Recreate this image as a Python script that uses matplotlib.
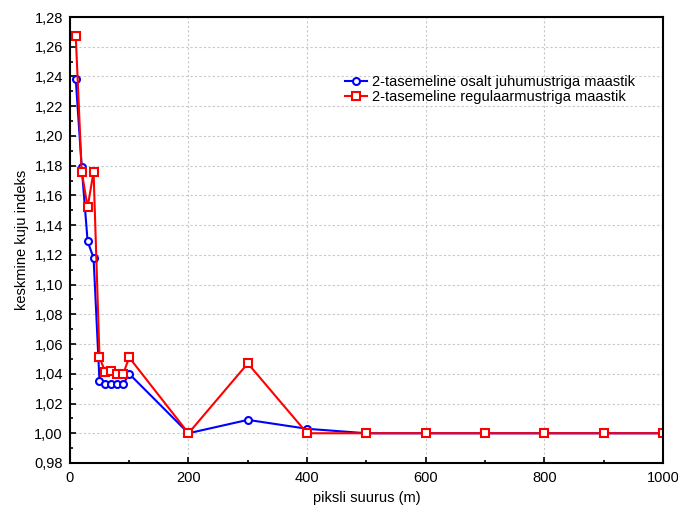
import matplotlib.pyplot as plt
from matplotlib.ticker import MultipleLocator, FuncFormatter

plt.rcParams['font.family'] = ['Liberation Sans', 'DejaVu Sans']

# piksli suurused (m)
piksel = [10, 20, 30, 40, 50, 60, 70, 80, 90, 100, 200, 300, 400, 500, 600, 700, 800, 900, 1000]
juhu = [1.238, 1.179, 1.129, 1.118, 1.035, 1.033, 1.033, 1.033, 1.033, 1.040,
        1.000, 1.009, 1.003, 1.000, 1.000, 1.000, 1.000, 1.000, 1.000]
regul = [1.267, 1.176, 1.152, 1.176, 1.051, 1.041, 1.042, 1.040, 1.040, 1.051,
         1.000, 1.047, 1.000, 1.000, 1.000, 1.000, 1.000, 1.000, 1.000]

fig = plt.figure(figsize=(6.78, 5.09), dpi=100)
ax = fig.add_axes([0.103, 0.0904, 0.875, 0.8762])

ax.plot(piksel, juhu, color='blue', lw=1.5, marker='o', ms=5,
        mfc='white', mec='blue', mew=1.5, label='2-tasemeline osalt juhumustriga maastik')
ax.plot(piksel, regul, color='red', lw=1.5, marker='s', ms=6,
        mfc='white', mec='red', mew=1.5, label='2-tasemeline regulaarmustriga maastik')

ax.set_xlim(0, 1000)
ax.set_ylim(0.98, 1.28)
ax.xaxis.set_major_locator(MultipleLocator(200))
ax.xaxis.set_minor_locator(MultipleLocator(100))
ax.yaxis.set_major_locator(MultipleLocator(0.02))
ax.yaxis.set_minor_locator(MultipleLocator(0.01))
ax.yaxis.set_major_formatter(FuncFormatter(lambda v, p: f'{v:.2f}'.replace('.', ',')))
ax.tick_params(which='both', direction='in', labelsize=10.5, width=1.2)
ax.tick_params(which='major', length=4, pad=6)
ax.tick_params(axis='y', which='major', pad=5)
ax.tick_params(which='minor', length=2.5)
ax.grid(True, which='major', color='#c8c8c8', ls=(0, (2, 2)), lw=0.8)
for s in ax.spines.values():
    s.set_linewidth(1.5)

ax.set_xlabel('piksli suurus (m)', fontsize=10.5, labelpad=4)
ax.set_ylabel('keskmine kuju indeks', fontsize=10.5, labelpad=4)
ax.legend(loc='upper left', bbox_to_anchor=(0.447, 0.892), frameon=False,
          fontsize=10.5, handlelength=1.5, handletextpad=0.35,
          labelspacing=0.05, borderpad=0.2)

fig.savefig('out.png', dpi=100)
